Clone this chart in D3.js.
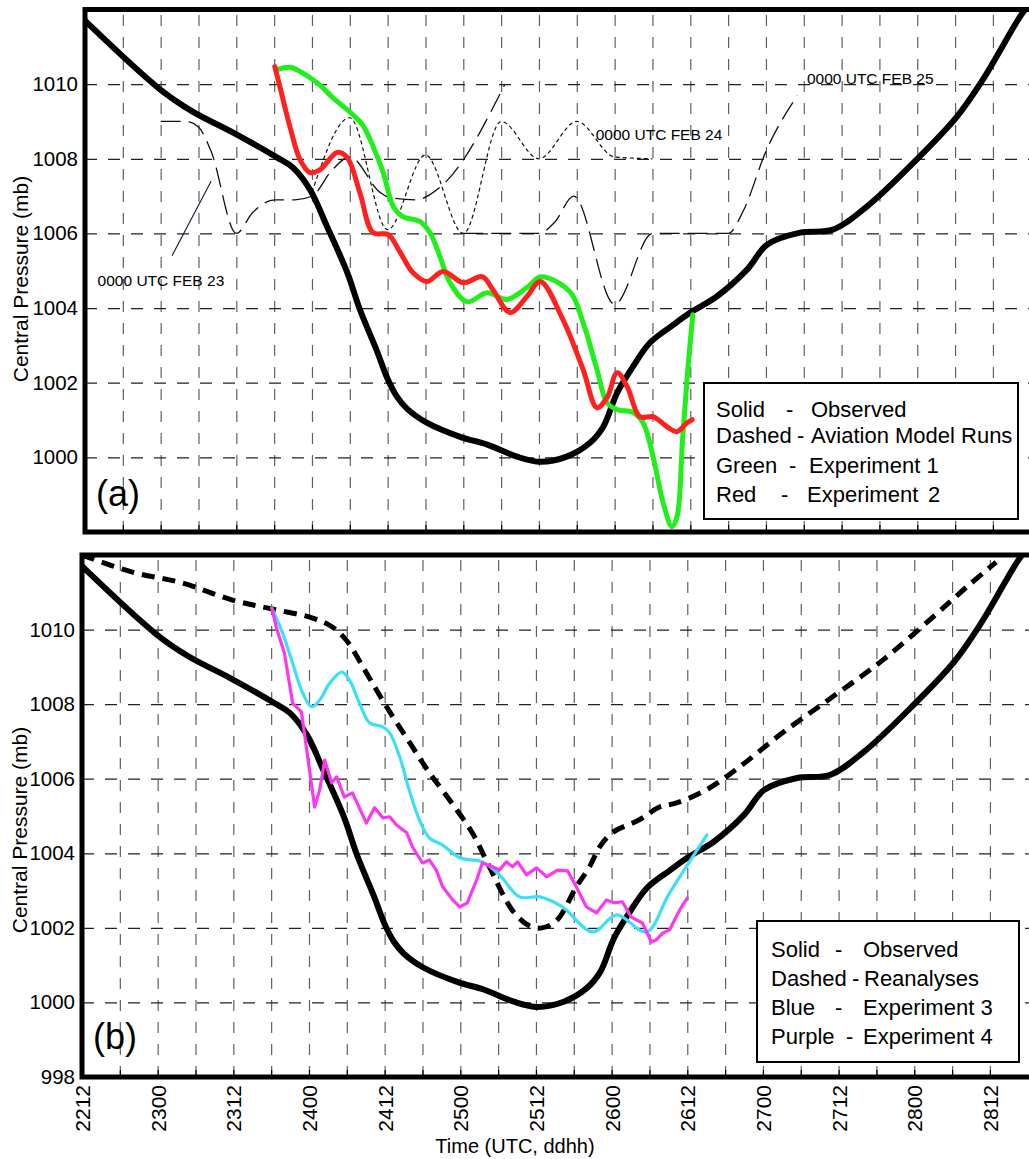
<!DOCTYPE html>
<html>
<head>
<meta charset="utf-8">
<script src="https://cdn.jsdelivr.net/npm/d3@7"></script>
<style>
  body { margin: 0; background: #fff; }
  svg { display: block; }
  text { font-family: "Liberation Sans", Arial, Helvetica, sans-serif; fill: #000; }
</style>
</head>
<body>
<svg id="chart" width="1029" height="1159"></svg>
<script>
// Time is in hours after 1200 UTC 22 Feb; pressure in mb.

// Observed central pressure (solid black, both panels)
const obsHours    = [0, 11.9, 17.0, 23.5, 30.5, 33.0, 35.7, 38.4, 41.6, 43.6, 46.3, 48.0, 49.5, 51.1, 54.2, 59.5, 63.8, 68.5, 72.2, 76.4, 80.1, 82.2, 84.4, 86.9, 89.6, 93.3, 96.0, 100.2, 105.0, 108.2, 113.4, 118.6, 124.0, 131.9, 138.3, 142.4, 148.3, 150];
const obsPressure = [1011.7, 1009.86, 1009.27, 1008.70, 1008.03, 1007.76, 1007.17, 1006.18, 1004.95, 1003.96, 1002.85, 1002.1, 1001.62, 1001.3, 1000.93, 1000.55, 1000.34, 1000.02, 999.88, 1000.02, 1000.39, 1000.82, 1001.73, 1002.43, 1003.07, 1003.55, 1003.88, 1004.31, 1005.03, 1005.70, 1006.02, 1006.10, 1006.72, 1007.98, 1009.13, 1010.12, 1011.81, 1012.2];

// Experiment 1 (green) and Experiment 2 (red), panel (a)
const exp1Hours    = [30.5, 32.5, 34.1, 36.8, 39.3, 42.5, 44.1, 45.7, 47.3, 48.9, 50.4, 53.1, 54.7, 56.3, 57.9, 60.6, 63.8, 66.9, 70.1, 72.3, 76.9, 79.0, 81.2, 82.8, 84.4, 86.9, 88.5, 90.1, 91.7, 93.1, 93.9, 94.8, 95.6, 96.4];
const exp1Pressure = [1010.39, 1010.45, 1010.34, 1010.04, 1009.64, 1009.18, 1008.89, 1008.33, 1007.63, 1006.72, 1006.45, 1006.32, 1006.02, 1005.38, 1004.68, 1004.17, 1004.41, 1004.23, 1004.55, 1004.84, 1004.44, 1003.61, 1002.35, 1001.46, 1001.28, 1001.20, 1000.93, 1000.02, 998.78, 998.14, 998.41, 1000.55, 1002.35, 1003.82];

const exp2Hours    = [30.1, 30.9, 32.5, 34.1, 35.7, 37.3, 40.0, 41.6, 43.6, 45.7, 48.1, 50.0, 52.0, 54.2, 56.8, 60.0, 63.0, 64.7, 67.4, 70.1, 72.2, 75.8, 79.0, 81.2, 82.8, 84.4, 86.0, 88.0, 90.1, 92.3, 93.9, 95.5, 96.3];
const exp2Pressure = [1010.47, 1009.94, 1008.86, 1007.98, 1007.63, 1007.71, 1008.17, 1008.03, 1007.09, 1006.02, 1005.97, 1005.49, 1004.95, 1004.71, 1004.98, 1004.68, 1004.84, 1004.49, 1003.88, 1004.31, 1004.71, 1003.69, 1002.35, 1001.33, 1001.60, 1002.27, 1001.89, 1001.09, 1001.09, 1000.82, 1000.69, 1000.93, 1001.01];

// Aviation model runs (thin dashed), panel (a)
const avn23Hours    = [12, 16, 18, 20, 24, 26.6, 30.1, 33.3, 36, 39.2, 42, 46.8, 48.4, 52.7, 54.7, 57.1, 66.6];
const avn23Pressure = [1009.0, 1009.0, 1008.85, 1008.2, 1006.0, 1006.56, 1006.9, 1006.9, 1007.0, 1007.7, 1008.05, 1007.1, 1006.96, 1006.9, 1007.04, 1007.36, 1010.0];

const avn24Hours    = [36, 42, 48, 54, 60, 66, 72, 78, 84, 90];
const avn24Pressure = [1007.1, 1009.1, 1006.1, 1008.1, 1006.0, 1009.0, 1008.0, 1009.0, 1008.05, 1008.0];

const avn25Hours    = [60, 66, 72, 74.5, 77.5, 84, 90, 96, 102, 104.4, 108, 113];
const avn25Pressure = [1006.0, 1006.0, 1006.0, 1006.3, 1007.0, 1004.1, 1006.0, 1006.0, 1006.0, 1006.6, 1008.2, 1009.7];

// Reanalyses (thick dashed), Experiment 3 (blue), Experiment 4 (purple), panel (b)
const reanHours    = [0, 8.0, 15.9, 23.9, 30.2, 36.6, 39.7, 41.9, 45.1, 48.3, 52.0, 55.1, 58.3, 61.9, 64.6, 68.3, 71.0, 73.0, 75.3, 78.4, 80.5, 82.1, 84.1, 88.4, 91.6, 94.3, 99.0, 104.3, 111.1, 119.0, 127.0, 135.0, 140.3, 145.0];
const reanPressure = [1012.0, 1011.54, 1011.25, 1010.79, 1010.55, 1010.31, 1010.07, 1009.72, 1008.84, 1007.93, 1006.96, 1006.16, 1005.43, 1004.55, 1003.64, 1002.46, 1002.05, 1002.0, 1002.2, 1003.1, 1003.64, 1004.17, 1004.55, 1004.9, 1005.24, 1005.35, 1005.7, 1006.32, 1007.23, 1008.19, 1009.18, 1010.34, 1011.14, 1011.81];

const exp3Hours    = [30.1, 31.8, 33.4, 35.0, 36.4, 37.7, 39.3, 41.2, 42.4, 44.0, 45.6, 47.7, 48.8, 50.4, 51.9, 53.5, 55.1, 57.2, 59.9, 63.5, 66.2, 69.4, 72.6, 76.2, 81.0, 84.8, 89.5, 93.2, 99.1];
const exp3Pressure = [1010.58, 1009.91, 1009.10, 1008.30, 1007.93, 1008.11, 1008.57, 1008.86, 1008.65, 1008.03, 1007.50, 1007.39, 1007.23, 1006.58, 1005.70, 1004.90, 1004.41, 1004.22, 1003.88, 1003.77, 1003.42, 1002.83, 1002.83, 1002.56, 1001.89, 1002.35, 1001.89, 1002.94, 1004.49];

const exp4Hours    = [30.1, 30.8, 32.1, 33.4, 34.8, 35.8, 36.9, 37.7, 38.5, 39.6, 40.4, 41.6, 42.9, 45.1, 46.4, 47.7, 48.8, 49.9, 51.5, 52.4, 54.0, 55.1, 56.2, 57.2, 58.8, 59.9, 61.1, 62.6, 63.5, 65.1, 66.2, 67.3, 68.3, 69.1, 70.5, 72.1, 73.7, 75.4, 77.0, 78.4, 80.0, 81.6, 83.2, 84.4, 85.7, 87.1, 88.9, 90.3, 91.1, 92.1, 93.2, 94.8, 96.0];
const exp4Pressure = [1010.58, 1010.07, 1009.37, 1008.03, 1007.79, 1006.58, 1005.24, 1005.70, 1006.50, 1005.89, 1006.05, 1005.51, 1005.62, 1004.81, 1005.22, 1004.95, 1004.98, 1004.76, 1004.55, 1004.17, 1003.74, 1003.82, 1003.55, 1003.10, 1002.75, 1002.56, 1002.67, 1003.29, 1003.74, 1003.64, 1003.55, 1003.77, 1003.64, 1003.77, 1003.42, 1003.61, 1003.37, 1003.55, 1003.53, 1003.10, 1002.56, 1002.40, 1002.75, 1002.67, 1002.70, 1002.29, 1002.13, 1001.62, 1001.68, 1001.86, 1001.95, 1002.48, 1002.80];

// Axis ticks
const timeTickHours  = [0, 12, 24, 36, 48, 60, 72, 84, 96, 108, 120, 132, 144];
const timeTickLabels = ["2212", "2300", "2312", "2400", "2412", "2500", "2512", "2600", "2612", "2700", "2712", "2800", "2812"];
const gridHours      = d3.range(6, 145, 6);
const pressureTicksA = [1000, 1002, 1004, 1006, 1008, 1010];
const pressureTicksB = [998, 1000, 1002, 1004, 1006, 1008, 1010];

const W = 1029;
const pxPerHour = 6.305;
const svg = d3.select("#chart");

const zip = (h, p) => h.map((v, i) => [v, p[i]]);

function drawPanel(p) {
  const x = d3.scaleLinear().domain([0, 144]).range([p.left, p.left + 144 * pxPerHour]);
  const y = d3.scaleLinear().domain([998, 1012]).range([p.bottom, p.top]);
  const g = svg.append("g");

  // vertical grid
  const vg = g.append("g")
    .attr("transform", `translate(0,${p.bottom})`)
    .call(d3.axisBottom(x).tickValues(gridHours).tickSize(-(p.bottom - p.top)).tickFormat(""));
  vg.select(".domain").remove();
  vg.selectAll("line").attr("stroke", "#606060").attr("stroke-width", 1.2).attr("stroke-dasharray", "11,11");

  // small inward ticks on the time axis
  const tk = g.append("g")
    .attr("transform", `translate(0,${p.bottom})`)
    .call(d3.axisBottom(x).tickValues(d3.range(0, 145, 6)).tickSize(-7).tickFormat(""));
  tk.select(".domain").remove();
  tk.selectAll("line").attr("stroke", "#000").attr("stroke-width", 1.2);

  // horizontal grid + pressure labels
  const hg = g.append("g")
    .attr("transform", `translate(${p.left},0)`)
    .call(d3.axisLeft(y).tickValues(p.yTicks).tickSize(-(W - p.left)).tickPadding(7).tickFormat(d3.format("d")));
  hg.select(".domain").remove();
  hg.selectAll("line").attr("stroke", "#222").attr("stroke-width", 1.2).attr("stroke-dasharray", "12,11");
  hg.selectAll("text").attr("font-size", 20.5).attr("font-family", null).style("fill", "#000");

  // y title
  g.append("text")
    .attr("transform", `translate(${p.titleX},${p.titleY}) rotate(-90)`)
    .attr("text-anchor", "middle")
    .attr("font-size", 21)
    .text("Central Pressure (mb)");

  // series
  const clipId = "clip" + p.name;
  svg.append("clipPath").attr("id", clipId)
    .append("rect").attr("x", p.left).attr("y", p.top).attr("width", W - p.left).attr("height", p.bottom - p.top);
  const lines = g.append("g").attr("clip-path", `url(#${clipId})`);
  p.series.forEach(s => {
    const gen = d3.line().x(d => x(d[0])).y(d => y(d[1])).curve(s.curve || d3.curveCatmullRom.alpha(0.5));
    lines.append("path")
      .datum(zip(s.h, s.v))
      .attr("d", gen)
      .attr("fill", "none")
      .attr("stroke", s.color)
      .attr("stroke-width", s.width)
      .attr("stroke-linejoin", "round")
      .attr("stroke-linecap", s.dash ? "butt" : "round")
      .attr("stroke-dasharray", s.dash || null);
  });

  // frame
  g.append("path")
    .attr("d", `M${p.left},${p.bottom}V${p.top}H${W}M${p.left - 2.5},${p.bottom}H${W}`)
    .attr("fill", "none").attr("stroke", "#000").attr("stroke-width", 5);

  // panel letter
  g.append("text").attr("x", p.left + 11).attr("y", p.letterY)
    .attr("font-size", 36).text(p.letter);

  // legend box
  const lg = g.append("g");
  lg.append("rect").attr("x", p.legend.x).attr("y", p.legend.y)
    .attr("width", p.legend.w).attr("height", p.legend.h)
    .attr("fill", "#fff").attr("stroke", "#000").attr("stroke-width", 2);
  p.legend.rows.forEach(r => {
    r.parts.forEach(([tx, str]) => {
      lg.append("text").attr("x", tx).attr("y", r.y).attr("font-size", 22).text(str);
    });
  });

  return { x, y, g };
}

const panelA = {
  name: "a", left: 85, top: 9.5, bottom: 532, yTicks: pressureTicksA,
  titleX: 28, titleY: 279, letter: "(a)", letterY: 506,
  series: [
    { h: avn23Hours, v: avn23Pressure, color: "#111", width: 1.3, dash: "20,8", curve: d3.curveMonotoneX },
    { h: avn24Hours, v: avn24Pressure, color: "#111", width: 1.2, dash: "4,3", curve: d3.curveMonotoneX },
    { h: avn25Hours, v: avn25Pressure, color: "#111", width: 1.3, dash: "20,8", curve: d3.curveMonotoneX },
    { h: obsHours, v: obsPressure, color: "#000", width: 6 },
    { h: exp1Hours, v: exp1Pressure, color: "#22ee1c", width: 5 },
    { h: exp2Hours, v: exp2Pressure, color: "#ff2020", width: 5 }
  ],
  legend: {
    x: 704, y: 383, w: 314, h: 136,
    rows: [
      { y: 417, parts: [[716, "Solid"], [786, "-"], [811, "Observed"]] },
      { y: 443, parts: [[716, "Dashed"], [797, "-"], [811, "Aviation Model Runs"]] },
      { y: 472.5, parts: [[716, "Green"], [789, "-"], [809, "Experiment 1"]] },
      { y: 501.5, parts: [[716, "Red"], [781, "-"], [807, "Experiment"], [928, "2"]] }
    ]
  }
};

const panelB = {
  name: "b", left: 82, top: 555, bottom: 1077, yTicks: pressureTicksB,
  titleX: 27, titleY: 830, letter: "(b)", letterY: 1049,
  series: [
    { h: reanHours, v: reanPressure, color: "#000", width: 5, dash: "13,8" },
    { h: obsHours, v: obsPressure, color: "#000", width: 6 },
    { h: exp3Hours, v: exp3Pressure, color: "#3adff8", width: 3.2 },
    { h: exp4Hours, v: exp4Pressure, color: "#fb38ee", width: 3.2, curve: d3.curveLinear }
  ],
  legend: {
    x: 757, y: 921, w: 262, h: 141,
    rows: [
      { y: 957, parts: [[771, "Solid"], [835, "-"], [863, "Observed"]] },
      { y: 986, parts: [[771, "Dashed"], [852, "-"], [864, "Reanalyses"]] },
      { y: 1015, parts: [[771, "Blue"], [835, "-"], [863, "Experiment 3"]] },
      { y: 1044, parts: [[771, "Purple"], [846, "-"], [863, "Experiment 4"]] }
    ]
  }
};

const A = drawPanel(panelA);
const B = drawPanel(panelB);

// run labels in panel (a)
const runLabels = [
  { text: "0000 UTC FEB 23", h: 2.0, v: 1004.6 },
  { text: "0000 UTC FEB 24", h: 81.0, v: 1008.5 },
  { text: "0000 UTC FEB 25", h: 114.5, v: 1010.0 }
];
A.g.selectAll(".runlabel").data(runLabels).join("text")
  .attr("x", d => A.x(d.h)).attr("y", d => A.y(d.v))
  .attr("font-size", 15.5).text(d => d.text);

// pointer from the FEB 23 label to its run
A.g.append("line")
  .attr("x1", A.x(13.8)).attr("y1", A.y(1005.4))
  .attr("x2", A.x(20.0)).attr("y2", A.y(1007.4))
  .attr("stroke", "#11153a").attr("stroke-width", 1.1);

// time axis labels (bottom panel)
const ax = B.g.append("g")
  .attr("transform", `translate(0,${panelB.bottom})`)
  .call(d3.axisBottom(B.x).tickValues(timeTickHours).tickSize(0)
    .tickFormat((d, i) => timeTickLabels[i]));
ax.select(".domain").remove();
ax.selectAll("text")
  .attr("font-size", 21).attr("font-family", null).style("fill", "#000")
  .attr("transform", "rotate(-90)")
  .attr("text-anchor", "end")
  .attr("x", -8).attr("y", 0).attr("dy", "0.36em");

svg.append("text").attr("x", 515).attr("y", 1153)
  .attr("text-anchor", "middle").attr("font-size", 20)
  .text("Time (UTC, ddhh)");
</script>
</body>
</html>
